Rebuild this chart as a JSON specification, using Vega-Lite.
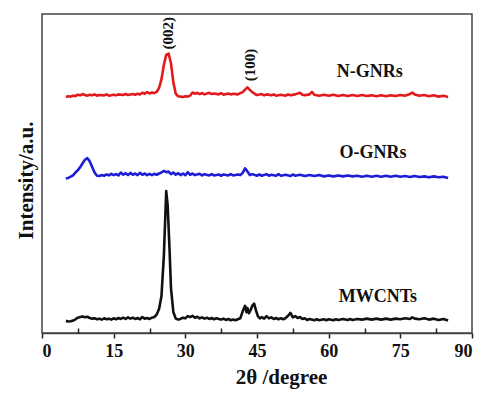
{
"$schema":"https://vega.github.io/schema/vega-lite/v6.json",
"width":430,"height":319,
"autosize":{"type":"none"},
"padding":{"left":42,"top":14,"right":10,"bottom":60},
"config":{"view":{"stroke":"#444","strokeWidth":1.5},"font":"Liberation Serif","text":{"font":"Liberation Serif"},
"axis":{"labelFont":"Liberation Serif","labelFontSize":18,"labelFontWeight":"bold","labelColor":"#111","titleFont":"Liberation Serif","titleFontSize":21,"titleFontWeight":"bold","titleColor":"#111","grid":false}},
"resolve":{"scale":{"x":"independent"}},
"layer":[
{"data":{"values":[
{"s":"N","x":5,"y":74.0},{"s":"N","x":5.5,"y":74.2},{"s":"N","x":6,"y":74.1},{"s":"N","x":6.5,"y":74.4},{"s":"N","x":7,"y":74.3},{"s":"N","x":7.5,"y":74.7},{"s":"N","x":8,"y":74.5},{"s":"N","x":8.5,"y":74.9},{"s":"N","x":9,"y":74.6},{"s":"N","x":9.5,"y":74.4},{"s":"N","x":10,"y":74.7},{"s":"N","x":10.5,"y":74.5},{"s":"N","x":11,"y":74.8},{"s":"N","x":11.5,"y":74.4},{"s":"N","x":12,"y":74.6},{"s":"N","x":13,"y":74.5},{"s":"N","x":13.5,"y":74.8},{"s":"N","x":14,"y":74.4},{"s":"N","x":15,"y":74.7},{"s":"N","x":15.5,"y":74.5},{"s":"N","x":16,"y":74.8},{"s":"N","x":17,"y":74.6},{"s":"N","x":17.5,"y":74.9},{"s":"N","x":18,"y":74.6},{"s":"N","x":19,"y":74.9},{"s":"N","x":19.5,"y":74.7},{"s":"N","x":20,"y":75.0},{"s":"N","x":20.5,"y":74.8},{"s":"N","x":21,"y":75.3},{"s":"N","x":21.5,"y":75.0},{"s":"N","x":22,"y":75.5},{"s":"N","x":22.5,"y":75.1},{"s":"N","x":23,"y":75.4},{"s":"N","x":23.5,"y":75.2},{"s":"N","x":24,"y":75.6},{"s":"N","x":24.5,"y":76.8},{"s":"N","x":25,"y":79.5},{"s":"N","x":25.5,"y":84.0},{"s":"N","x":26,"y":87.2},{"s":"N","x":26.5,"y":87.6},{"s":"N","x":27,"y":84.5},{"s":"N","x":27.5,"y":78.5},{"s":"N","x":28,"y":75.0},{"s":"N","x":28.5,"y":74.2},{"s":"N","x":29,"y":74.1},{"s":"N","x":29.5,"y":74.0},{"s":"N","x":30,"y":74.2},{"s":"N","x":30.5,"y":74.1},{"s":"N","x":31,"y":74.4},{"s":"N","x":31.5,"y":75.4},{"s":"N","x":32,"y":75.0},{"s":"N","x":32.5,"y":75.3},{"s":"N","x":33,"y":74.9},{"s":"N","x":33.5,"y":75.2},{"s":"N","x":34,"y":74.8},{"s":"N","x":35,"y":75.3},{"s":"N","x":35.5,"y":74.9},{"s":"N","x":36,"y":75.1},{"s":"N","x":37,"y":74.8},{"s":"N","x":37.5,"y":75.2},{"s":"N","x":38,"y":74.7},{"s":"N","x":39,"y":75.1},{"s":"N","x":39.5,"y":74.8},{"s":"N","x":40,"y":75.0},{"s":"N","x":41,"y":74.8},{"s":"N","x":41.5,"y":75.2},{"s":"N","x":42,"y":75.5},{"s":"N","x":42.5,"y":76.3},{"s":"N","x":43,"y":77.0},{"s":"N","x":43.5,"y":76.2},{"s":"N","x":44,"y":75.5},{"s":"N","x":44.5,"y":75.0},{"s":"N","x":45,"y":74.6},{"s":"N","x":46,"y":74.9},{"s":"N","x":46.5,"y":74.5},{"s":"N","x":47,"y":74.8},{"s":"N","x":48,"y":74.5},{"s":"N","x":48.5,"y":74.8},{"s":"N","x":49,"y":74.4},{"s":"N","x":50,"y":74.7},{"s":"N","x":51,"y":74.4},{"s":"N","x":51.5,"y":74.8},{"s":"N","x":52,"y":74.5},{"s":"N","x":53,"y":74.8},{"s":"N","x":54,"y":75.3},{"s":"N","x":54.5,"y":74.7},{"s":"N","x":55,"y":74.5},{"s":"N","x":56,"y":74.8},{"s":"N","x":56.5,"y":75.6},{"s":"N","x":57,"y":74.7},{"s":"N","x":58,"y":74.4},{"s":"N","x":59,"y":74.7},{"s":"N","x":60,"y":74.4},{"s":"N","x":61,"y":74.7},{"s":"N","x":62,"y":74.3},{"s":"N","x":63,"y":74.6},{"s":"N","x":64,"y":74.3},{"s":"N","x":65,"y":74.6},{"s":"N","x":66,"y":74.3},{"s":"N","x":67,"y":74.6},{"s":"N","x":68,"y":74.3},{"s":"N","x":69,"y":74.5},{"s":"N","x":70,"y":74.2},{"s":"N","x":71,"y":74.5},{"s":"N","x":72,"y":74.2},{"s":"N","x":73,"y":74.5},{"s":"N","x":74,"y":74.3},{"s":"N","x":75,"y":74.6},{"s":"N","x":76,"y":74.4},{"s":"N","x":77,"y":74.9},{"s":"N","x":77.5,"y":75.4},{"s":"N","x":78,"y":74.8},{"s":"N","x":79,"y":74.4},{"s":"N","x":80,"y":74.6},{"s":"N","x":81,"y":74.2},{"s":"N","x":82,"y":74.5},{"s":"N","x":83,"y":74.1},{"s":"N","x":84,"y":74.4},{"s":"N","x":85,"y":74.0},
{"s":"O","x":5,"y":48.4},{"s":"O","x":5.5,"y":48.6},{"s":"O","x":6,"y":49.0},{"s":"O","x":6.5,"y":49.4},{"s":"O","x":7,"y":50.3},{"s":"O","x":7.5,"y":51.0},{"s":"O","x":8,"y":52.0},{"s":"O","x":8.5,"y":53.2},{"s":"O","x":9,"y":54.3},{"s":"O","x":9.5,"y":54.8},{"s":"O","x":10,"y":53.8},{"s":"O","x":10.5,"y":52.0},{"s":"O","x":11,"y":50.3},{"s":"O","x":11.5,"y":49.3},{"s":"O","x":12,"y":49.2},{"s":"O","x":12.5,"y":49.5},{"s":"O","x":13,"y":49.3},{"s":"O","x":13.5,"y":49.7},{"s":"O","x":14,"y":49.4},{"s":"O","x":14.5,"y":49.9},{"s":"O","x":15,"y":49.5},{"s":"O","x":15.5,"y":49.8},{"s":"O","x":16,"y":49.4},{"s":"O","x":16.5,"y":50.3},{"s":"O","x":17,"y":49.6},{"s":"O","x":17.5,"y":50.1},{"s":"O","x":18,"y":49.5},{"s":"O","x":18.5,"y":50.2},{"s":"O","x":19,"y":49.6},{"s":"O","x":19.5,"y":50.0},{"s":"O","x":20,"y":49.5},{"s":"O","x":20.5,"y":50.2},{"s":"O","x":21,"y":49.6},{"s":"O","x":21.5,"y":50.0},{"s":"O","x":22,"y":49.5},{"s":"O","x":22.5,"y":49.9},{"s":"O","x":23,"y":49.5},{"s":"O","x":23.5,"y":49.9},{"s":"O","x":24,"y":49.6},{"s":"O","x":24.5,"y":50.0},{"s":"O","x":25,"y":50.3},{"s":"O","x":25.5,"y":50.8},{"s":"O","x":26,"y":50.4},{"s":"O","x":26.5,"y":50.6},{"s":"O","x":27,"y":49.8},{"s":"O","x":27.5,"y":50.3},{"s":"O","x":28,"y":49.6},{"s":"O","x":28.5,"y":50.1},{"s":"O","x":29,"y":49.5},{"s":"O","x":29.5,"y":50.0},{"s":"O","x":30,"y":49.5},{"s":"O","x":30.5,"y":50.4},{"s":"O","x":31,"y":49.6},{"s":"O","x":31.5,"y":50.0},{"s":"O","x":32,"y":49.5},{"s":"O","x":33,"y":49.9},{"s":"O","x":33.5,"y":49.4},{"s":"O","x":34,"y":49.8},{"s":"O","x":35,"y":49.4},{"s":"O","x":35.5,"y":49.8},{"s":"O","x":36,"y":49.4},{"s":"O","x":37,"y":49.7},{"s":"O","x":37.5,"y":49.3},{"s":"O","x":38,"y":49.7},{"s":"O","x":39,"y":49.4},{"s":"O","x":39.5,"y":49.8},{"s":"O","x":40,"y":49.4},{"s":"O","x":41,"y":49.7},{"s":"O","x":41.5,"y":49.5},{"s":"O","x":42,"y":50.2},{"s":"O","x":42.5,"y":51.6},{"s":"O","x":43,"y":50.6},{"s":"O","x":43.5,"y":49.5},{"s":"O","x":44,"y":49.8},{"s":"O","x":45,"y":49.3},{"s":"O","x":45.5,"y":49.7},{"s":"O","x":46,"y":49.3},{"s":"O","x":47,"y":49.8},{"s":"O","x":47.5,"y":49.3},{"s":"O","x":48,"y":49.6},{"s":"O","x":49,"y":49.3},{"s":"O","x":49.5,"y":49.8},{"s":"O","x":50,"y":49.3},{"s":"O","x":51,"y":49.6},{"s":"O","x":52,"y":49.2},{"s":"O","x":52.5,"y":49.7},{"s":"O","x":53,"y":49.3},{"s":"O","x":54,"y":49.6},{"s":"O","x":55,"y":49.2},{"s":"O","x":56,"y":49.5},{"s":"O","x":57,"y":49.2},{"s":"O","x":58,"y":49.5},{"s":"O","x":59,"y":49.1},{"s":"O","x":60,"y":49.4},{"s":"O","x":61,"y":49.1},{"s":"O","x":62,"y":49.4},{"s":"O","x":63,"y":49.1},{"s":"O","x":64,"y":49.4},{"s":"O","x":65,"y":49.1},{"s":"O","x":66,"y":49.3},{"s":"O","x":67,"y":49.0},{"s":"O","x":68,"y":49.3},{"s":"O","x":69,"y":49.0},{"s":"O","x":70,"y":49.3},{"s":"O","x":71,"y":49.0},{"s":"O","x":72,"y":49.3},{"s":"O","x":73,"y":49.0},{"s":"O","x":74,"y":49.3},{"s":"O","x":75,"y":49.0},{"s":"O","x":76,"y":49.2},{"s":"O","x":77,"y":48.9},{"s":"O","x":78,"y":49.2},{"s":"O","x":79,"y":48.9},{"s":"O","x":80,"y":49.1},{"s":"O","x":81,"y":48.8},{"s":"O","x":82,"y":49.1},{"s":"O","x":83,"y":48.8},{"s":"O","x":84,"y":49.0},{"s":"O","x":85,"y":48.6},
{"s":"M","x":5,"y":3.8},{"s":"M","x":5.5,"y":3.6},{"s":"M","x":6,"y":3.7},{"s":"M","x":6.5,"y":3.9},{"s":"M","x":7,"y":4.3},{"s":"M","x":7.5,"y":4.8},{"s":"M","x":8,"y":5.0},{"s":"M","x":8.5,"y":5.2},{"s":"M","x":9,"y":4.9},{"s":"M","x":9.5,"y":5.1},{"s":"M","x":10,"y":4.7},{"s":"M","x":10.5,"y":4.5},{"s":"M","x":11,"y":4.6},{"s":"M","x":11.5,"y":4.3},{"s":"M","x":12,"y":4.5},{"s":"M","x":12.5,"y":4.2},{"s":"M","x":13,"y":4.6},{"s":"M","x":13.5,"y":4.3},{"s":"M","x":14,"y":4.5},{"s":"M","x":14.5,"y":4.2},{"s":"M","x":15,"y":4.6},{"s":"M","x":15.5,"y":4.3},{"s":"M","x":16,"y":4.7},{"s":"M","x":16.5,"y":4.4},{"s":"M","x":17,"y":4.8},{"s":"M","x":17.5,"y":4.4},{"s":"M","x":18,"y":4.9},{"s":"M","x":18.5,"y":4.5},{"s":"M","x":19,"y":4.8},{"s":"M","x":19.5,"y":4.4},{"s":"M","x":20,"y":4.7},{"s":"M","x":20.5,"y":4.3},{"s":"M","x":21,"y":5.0},{"s":"M","x":21.5,"y":4.5},{"s":"M","x":22,"y":4.7},{"s":"M","x":22.5,"y":4.4},{"s":"M","x":23,"y":4.8},{"s":"M","x":23.5,"y":5.0},{"s":"M","x":24,"y":5.8},{"s":"M","x":24.5,"y":7.5},{"s":"M","x":25,"y":11.5},{"s":"M","x":25.5,"y":24},{"s":"M","x":26,"y":44.5},{"s":"M","x":26.3,"y":40},{"s":"M","x":26.7,"y":26},{"s":"M","x":27,"y":14},{"s":"M","x":27.5,"y":6.5},{"s":"M","x":28,"y":4.5},{"s":"M","x":28.5,"y":4.2},{"s":"M","x":29,"y":4.4},{"s":"M","x":29.5,"y":4.8},{"s":"M","x":30,"y":4.6},{"s":"M","x":30.5,"y":5.3},{"s":"M","x":31,"y":5.0},{"s":"M","x":31.5,"y":5.4},{"s":"M","x":32,"y":4.8},{"s":"M","x":32.5,"y":5.1},{"s":"M","x":33,"y":4.6},{"s":"M","x":33.5,"y":4.9},{"s":"M","x":34,"y":4.5},{"s":"M","x":34.5,"y":4.8},{"s":"M","x":35,"y":4.4},{"s":"M","x":35.5,"y":4.7},{"s":"M","x":36,"y":4.3},{"s":"M","x":36.5,"y":4.6},{"s":"M","x":37,"y":4.4},{"s":"M","x":37.5,"y":4.2},{"s":"M","x":38,"y":4.5},{"s":"M","x":38.5,"y":4.1},{"s":"M","x":39,"y":4.4},{"s":"M","x":39.5,"y":4.0},{"s":"M","x":40,"y":4.2},{"s":"M","x":40.5,"y":4.0},{"s":"M","x":41,"y":4.3},{"s":"M","x":41.5,"y":4.6},{"s":"M","x":42,"y":6.8},{"s":"M","x":42.5,"y":8.5},{"s":"M","x":42.8,"y":6.5},{"s":"M","x":43,"y":7.8},{"s":"M","x":43.3,"y":6.2},{"s":"M","x":43.6,"y":7.0},{"s":"M","x":44,"y":8.5},{"s":"M","x":44.4,"y":9.2},{"s":"M","x":44.8,"y":7.0},{"s":"M","x":45.2,"y":5.2},{"s":"M","x":45.6,"y":4.6},{"s":"M","x":46,"y":5.0},{"s":"M","x":46.5,"y":4.5},{"s":"M","x":47,"y":5.3},{"s":"M","x":47.5,"y":4.6},{"s":"M","x":48,"y":4.9},{"s":"M","x":48.5,"y":4.4},{"s":"M","x":49,"y":4.7},{"s":"M","x":49.5,"y":4.3},{"s":"M","x":50,"y":4.6},{"s":"M","x":50.5,"y":4.3},{"s":"M","x":51,"y":4.7},{"s":"M","x":51.5,"y":5.4},{"s":"M","x":52,"y":6.3},{"s":"M","x":52.5,"y":4.9},{"s":"M","x":53,"y":5.3},{"s":"M","x":53.5,"y":4.7},{"s":"M","x":54,"y":5.0},{"s":"M","x":54.5,"y":4.4},{"s":"M","x":55,"y":4.6},{"s":"M","x":55.5,"y":4.1},{"s":"M","x":56,"y":4.4},{"s":"M","x":57,"y":4.0},{"s":"M","x":57.5,"y":4.3},{"s":"M","x":58,"y":4.0},{"s":"M","x":59,"y":4.3},{"s":"M","x":59.5,"y":4.0},{"s":"M","x":60,"y":4.3},{"s":"M","x":61,"y":4.0},{"s":"M","x":61.5,"y":4.3},{"s":"M","x":62,"y":4.1},{"s":"M","x":63,"y":4.4},{"s":"M","x":64,"y":4.1},{"s":"M","x":64.5,"y":4.4},{"s":"M","x":65,"y":4.1},{"s":"M","x":66,"y":4.4},{"s":"M","x":67,"y":4.2},{"s":"M","x":68,"y":4.5},{"s":"M","x":69,"y":4.2},{"s":"M","x":70,"y":4.5},{"s":"M","x":71,"y":4.2},{"s":"M","x":72,"y":4.5},{"s":"M","x":73,"y":4.2},{"s":"M","x":74,"y":4.5},{"s":"M","x":75,"y":4.3},{"s":"M","x":76,"y":4.6},{"s":"M","x":77,"y":4.4},{"s":"M","x":77.5,"y":4.9},{"s":"M","x":78,"y":4.5},{"s":"M","x":79,"y":4.3},{"s":"M","x":80,"y":4.6},{"s":"M","x":81,"y":4.2},{"s":"M","x":82,"y":4.5},{"s":"M","x":83,"y":4.1},{"s":"M","x":84,"y":4.4},{"s":"M","x":85,"y":3.9}
]},
"mark":{"type":"line","strokeWidth":2.6,"strokeJoin":"round"},
"encoding":{
"x":{"field":"x","type":"quantitative","scale":{"domain":[0,90],"nice":false},
"axis":{"orient":"bottom","values":[0,15,30,45,60,75,90],"domain":true,"domainColor":"#444","domainWidth":1.5,"ticks":true,"tickSize":5,"tickColor":"#222","tickWidth":1.5,"labelPadding":4,"title":"2θ /degree","titleX":239,"titlePadding":6}},
"y":{"field":"y","type":"quantitative","scale":{"domain":[0,100],"nice":false},
"axis":{"domain":false,"ticks":false,"labels":false,"title":"Intensity/a.u.","titlePadding":6,"titleY":166}},
"color":{"field":"s","type":"nominal","scale":{"domain":["N","O","M"],"range":["#e3191d","#1d1dd8","#111111"]},"legend":null}
}},
{"data":{"values":[{"x":68.6,"y":81.8,"t":"N-GNRs"},{"x":69.3,"y":56.4,"t":"O-GNRs"},{"x":70.3,"y":11.3,"t":"MWCNTs"}]},
"mark":{"type":"text","font":"Liberation Serif","fontSize":18,"fontWeight":"bold","color":"#111","align":"center","baseline":"middle"},
"encoding":{"x":{"field":"x","type":"quantitative","scale":{"domain":[0,90],"nice":false},"axis":null},"y":{"field":"y","type":"quantitative"},"text":{"field":"t"}}},
{"data":{"values":[{"x":26.4,"y":94,"t":"(002)"},{"x":43.5,"y":84,"t":"(100)"}]},
"mark":{"type":"text","font":"Liberation Serif","fontSize":15,"fontWeight":"bold","color":"#111","angle":270,"align":"center","baseline":"middle"},
"encoding":{"x":{"field":"x","type":"quantitative","scale":{"domain":[0,90],"nice":false},
"axis":{"orient":"bottom","values":[7.5,22.5,37.5,52.5,67.5,82.5],"domain":false,"ticks":true,"tickSize":-5,"tickColor":"#222","tickWidth":1.5,"labels":false,"title":null}},
"y":{"field":"y","type":"quantitative"},"text":{"field":"t"}}}
]
}
